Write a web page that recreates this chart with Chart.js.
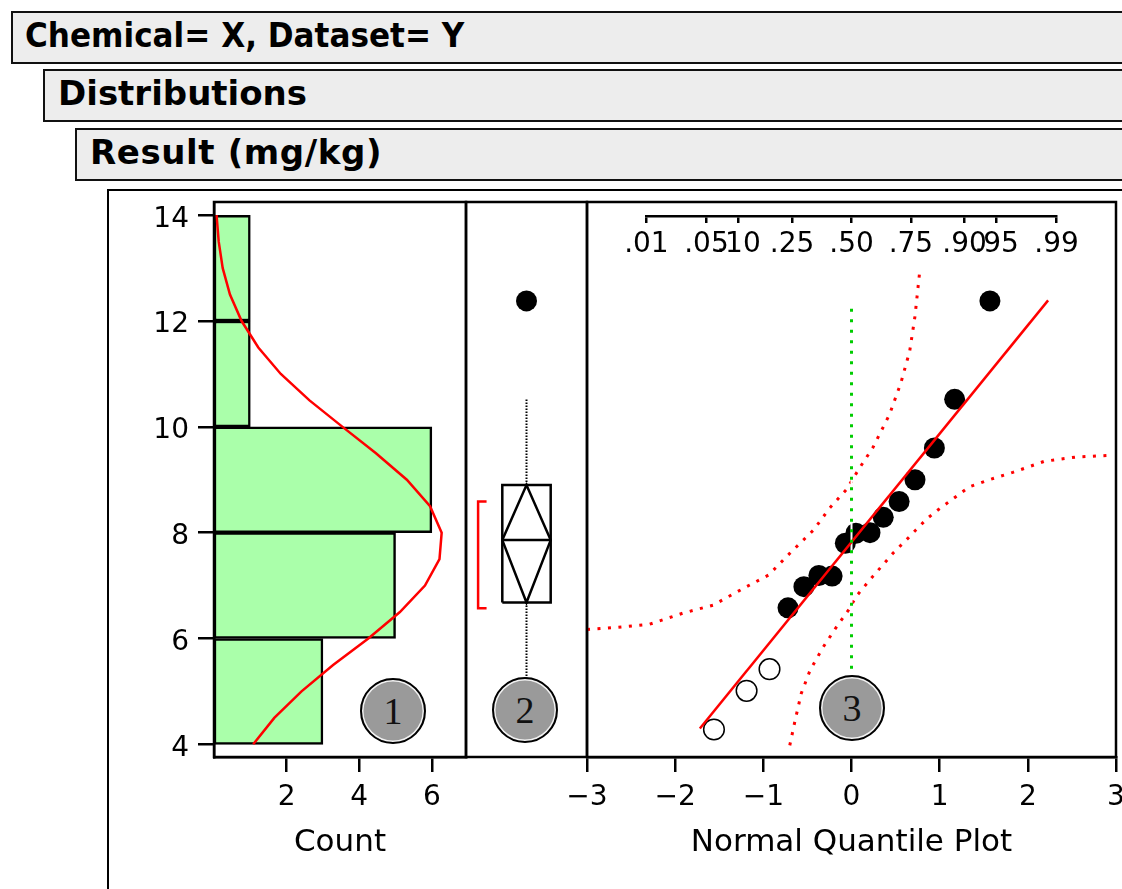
<!DOCTYPE html>
<html>
<head>
<meta charset="utf-8">
<title>Distributions – Result (mg/kg)</title>
<script src="https://cdn.jsdelivr.net/npm/chart.js@4.4.1/dist/chart.umd.min.js"></script>
<style>
  html, body { margin: 0; padding: 0; background: #fff; }
  body { width: 1122px; height: 889px; overflow: hidden; position: relative; }
  .hdr {
    position: absolute; right: -40px; height: 47px; padding-top: 2px;
    background: #ededed; border: 2px solid #111;
    font: bold 34px 'DejaVu Sans', sans-serif; line-height: 40px; color: #000;
    white-space: nowrap;
  }
  .hdr .narrow { display: inline-block; transform: scaleX(0.915); transform-origin: 0 50%; }
  .frame {
    position: absolute; left: 107px; top: 189px; width: 1100px; height: 800px;
    border-left: 2px solid #000; border-top: 2px solid #000;
  }
  canvas { position: absolute; left: 0; top: 0; }
  .badge {
    position: absolute; width: 62px; height: 62px; border-radius: 50%;
    background: #9a9a9a; border: 2px solid #000;
    box-shadow: inset 0 0 0 1.5px #f2f2f2;
    font: 38px 'Liberation Serif', 'DejaVu Serif', serif; color: #111;
    display: flex; align-items: center; justify-content: center;
  }
</style>
</head>
<body>
<div class="hdr" style="left:11px; top:11px; padding-left:12px;"><span class="narrow">Chemical= X, Dataset= Y</span></div>
<div class="hdr" style="left:43px; top:69px; padding-left:13px;">Distributions</div>
<div class="hdr" style="left:75px; top:128px; padding-left:13px; letter-spacing:0.6px;">Result (mg/kg)</div>
<div class="frame"></div>

<canvas id="hist" width="1300" height="1000"></canvas>
<canvas id="box" width="1300" height="1000"></canvas>
<canvas id="quant" width="1300" height="1000"></canvas>
<canvas id="prob" width="1300" height="1000"></canvas>

<div class="badge" style="left:360px; top:678px;">1</div>
<div class="badge" style="left:492px; top:677px;">2</div>
<div class="badge" style="left:819px; top:675px;">3</div>

<script>
// ---- Histogram (Result in mg/kg, counts per bin) ----
const binEdges  = [4, 6, 8, 10, 12, 14];
const binCounts = [3, 5, 6, 1, 1];

// Fitted normal curve, in count units
const densityValues = [4, 4.5, 5, 5.5, 6, 6.5, 7, 7.5, 8, 8.5, 9, 9.5, 10, 10.5, 11, 11.5, 12, 12.5, 13, 13.5, 14];
const densityCounts = [1.08, 1.66, 2.41, 3.28, 4.25, 5.12, 5.81, 6.21, 6.27, 5.95, 5.31, 4.46, 3.54, 2.63, 1.84, 1.22, 0.76, 0.44, 0.24, 0.13, 0.07];

// ---- Outlier box plot ----
const boxQuartiles  = [6.68, 8.90];
const boxMedian     = 7.86;
const whiskerEnds   = [4.28, 10.52];
const outlierValues = [12.38];
const meanValue     = 7.86;
const meanInterval  = [6.68, 8.90];
const shortestHalf  = [6.57, 8.59];

// ---- Normal quantile plot ----
const openQuantiles   = [-1.56, -1.19, -0.93];
const openValues      = [4.28, 5.01, 5.42];
const filledQuantiles = [-0.72, -0.54, -0.37, -0.22, -0.07, 0.05, 0.21, 0.36, 0.54, 0.72, 0.94, 1.17, 1.57];
const filledValues    = [6.58, 6.98, 7.19, 7.18, 7.80, 7.99, 8.00, 8.29, 8.59, 9.00, 9.60, 10.52, 12.38];
const fitQuantiles    = [-1.72, 2.23];
const fitValues       = [4.30, 12.39];
const upperBandQuantiles = [-3.0, -2.66, -2.29, -1.91, -1.57, -1.19, -0.94, -0.70, -0.43, -0.25, -0.06, 0.09, 0.24, 0.43, 0.56, 0.66, 0.72, 0.77];
const upperBandValues    = [6.17, 6.21, 6.27, 6.48, 6.63, 6.98, 7.20, 7.61, 8.05, 8.46, 8.81, 9.22, 9.60, 10.23, 10.83, 11.43, 12.09, 12.88];
const lowerBandQuantiles = [-0.70, -0.64, -0.57, -0.47, -0.32, -0.17, -0.02, 0.05, 0.24, 0.47, 0.62, 0.73, 0.86, 0.98, 1.11, 1.34, 1.58, 1.83, 2.19, 2.55, 2.93];
const lowerBandValues    = [3.98, 4.45, 4.96, 5.40, 5.84, 6.22, 6.57, 6.79, 7.17, 7.61, 7.86, 8.05, 8.27, 8.43, 8.59, 8.87, 9.01, 9.14, 9.35, 9.43, 9.46];
const medianRefQuantile  = 0;
const medianRefValues    = [12.23, 4.30];

// ---- Axes ----
const valueRange    = [3.76, 14.25];
const valueTicks    = [4, 6, 8, 10, 12, 14];
const countRange    = [0, 6.94];
const countTicks    = [2, 4, 6];
const quantileRange = [-3, 3];
const quantileTicks = [-3, -2, -1, 0, 1, 2, 3];
const probLabels    = ['.01', '.05', '.10', '.25', '.50', '.75', '.90', '.95', '.99'];
const probQuantiles = [-2.326, -1.645, -1.282, -0.674, 0, 0.674, 1.282, 1.645, 2.326];

// ---- Layout (pixels) ----
const CW = 1300, CH = 1000;
const plotTop = 202, plotBottom = 757;
const histLeft = 214, boxLeft = 466, quantLeft = 587, quantRight = 1116;
const leftAxisWidth = 100, bottomAxisHeight = 120;
const LW = 2.5;

Chart.defaults.font.family = "'DejaVu Sans', sans-serif";
Chart.defaults.color = '#000';

const framePlugin = {
  id: 'panelFrame',
  afterDraw(chart) {
    const { ctx, chartArea: a } = chart;
    ctx.save();
    ctx.strokeStyle = '#000';
    ctx.lineWidth = LW;
    ctx.strokeRect(a.left, a.top, a.right - a.left, a.bottom - a.top);
    ctx.restore();
  }
};

const noChrome = { legend: { display: false }, tooltip: { enabled: false } };
const tickFont = { size: 28 };
const blackTicks = (len) => ({ drawOnChartArea: false, drawTicks: true, tickLength: len, lineWidth: LW, color: '#000', offset: false });
const blackBorder = { display: true, color: '#000', width: LW };
const fixedTicks = (arr) => (scale) => { scale.ticks = arr.map(v => ({ value: v })); };
const pts = (xs, ys) => xs.map((x, i) => ({ x, y: ys[i] }));

// ---- Histogram panel ----
new Chart(document.getElementById('hist'), {
  type: 'bar',
  data: {
    datasets: [
      {
        type: 'line',
        data: pts(densityCounts, densityValues),
        borderColor: '#ff0000', borderWidth: 2.5, pointRadius: 0, tension: 0, fill: false,
        order: 0
      },
      {
        type: 'bar',
        data: binCounts.map((c, i) => ({ x: c, y: (binEdges[i] + binEdges[i + 1]) / 2 })),
        backgroundColor: '#aaffaa', borderColor: '#000', borderWidth: LW, borderSkipped: false,
        barPercentage: 1, categoryPercentage: 1,
        order: 1
      }
    ]
  },
  options: {
    indexAxis: 'y', responsive: false, animation: false, events: [],
    layout: { padding: { left: histLeft - leftAxisWidth, right: CW - boxLeft, top: plotTop, bottom: CH - plotBottom - bottomAxisHeight } },
    plugins: noChrome,
    scales: {
      y: {
        type: 'linear', position: 'left', min: valueRange[0], max: valueRange[1], offset: false,
        grid: blackTicks(16), border: blackBorder,
        ticks: { font: tickFont, padding: 9, labelOffset: 4 },
        afterBuildTicks: fixedTicks(valueTicks),
        afterFit: (s) => { s.width = leftAxisWidth; }
      },
      x: {
        type: 'linear', position: 'bottom', min: countRange[0], max: countRange[1],
        grid: blackTicks(15), border: blackBorder,
        ticks: { font: tickFont, padding: 9, maxRotation: 0, minRotation: 0, autoSkip: false },
        title: { display: true, text: 'Count', font: { size: 31 }, padding: { top: 0, bottom: 15 } },
        afterBuildTicks: fixedTicks(countTicks),
        afterFit: (s) => { s.height = bottomAxisHeight; }
      }
    }
  },
  plugins: [framePlugin]
});

// ---- Box plot panel ----
const cx = 0.5, boxHalf = 0.2, bracketX = 0.1, bracketTip = 0.17;
const solid = (color, width) => ({ showLine: true, borderColor: color, borderWidth: width, pointRadius: 0, fill: false, borderJoinStyle: 'miter' });
new Chart(document.getElementById('box'), {
  type: 'scatter',
  data: {
    datasets: [
      { ...solid('#000', LW), data: [
        { x: cx - boxHalf, y: boxQuartiles[0] }, { x: cx + boxHalf, y: boxQuartiles[0] },
        { x: cx + boxHalf, y: boxQuartiles[1] }, { x: cx - boxHalf, y: boxQuartiles[1] },
        { x: cx - boxHalf, y: boxQuartiles[0] }] },
      { ...solid('#000', LW), data: [{ x: cx - boxHalf, y: boxMedian }, { x: cx + boxHalf, y: boxMedian }] },
      { ...solid('#000', LW), data: [
        { x: cx - boxHalf, y: meanValue }, { x: cx, y: meanInterval[1] },
        { x: cx + boxHalf, y: meanValue }, { x: cx, y: meanInterval[0] },
        { x: cx - boxHalf, y: meanValue }] },
      { ...solid('#000', 2), borderDash: [1.5, 1.5], data: [{ x: cx, y: boxQuartiles[1] }, { x: cx, y: whiskerEnds[1] }] },
      { ...solid('#000', 2), borderDash: [1.5, 1.5], data: [{ x: cx, y: boxQuartiles[0] }, { x: cx, y: whiskerEnds[0] }] },
      { ...solid('#ff0000', LW), data: [
        { x: bracketTip, y: shortestHalf[1] }, { x: bracketX, y: shortestHalf[1] },
        { x: bracketX, y: shortestHalf[0] }, { x: bracketTip, y: shortestHalf[0] }] },
      { data: outlierValues.map(v => ({ x: cx, y: v })), pointRadius: 10.5, pointBackgroundColor: '#000', pointBorderWidth: 0 }
    ]
  },
  options: {
    responsive: false, animation: false, events: [],
    layout: { padding: { left: boxLeft, right: CW - quantLeft, top: plotTop, bottom: CH - plotBottom } },
    plugins: noChrome,
    scales: {
      x: { type: 'linear', display: false, min: 0, max: 1 },
      y: { type: 'linear', display: false, min: valueRange[0], max: valueRange[1] }
    }
  },
  plugins: [framePlugin]
});

// ---- Normal quantile plot panel ----
const minus = (v) => (v < 0 ? '\u2212' + Math.abs(v) : String(v));
const quantChart = new Chart(document.getElementById('quant'), {
  type: 'scatter',
  data: {
    datasets: [
      { ...solid('#ff0000', 3), borderDash: [3, 7.5], data: pts(upperBandQuantiles, upperBandValues), order: 10 },
      { ...solid('#ff0000', 3), borderDash: [3, 7.5], data: pts(lowerBandQuantiles, lowerBandValues), order: 10 },
      { data: pts(filledQuantiles, filledValues), pointRadius: 10.5, pointBackgroundColor: '#000', pointBorderWidth: 0, order: 6 },
      { data: pts(openQuantiles, openValues), pointRadius: 10.3, pointBackgroundColor: '#fff', pointBorderColor: '#000', pointBorderWidth: 1.5, order: 6 },
      { ...solid('#ffffff', 2), data: medianRefValues.map(v => ({ x: medianRefQuantile, y: v })), order: 5 },
      { ...solid('#ff0000', 2.5), data: pts(fitQuantiles, fitValues), order: 3 },
      { ...solid('#00cc00', 3), borderDash: [3, 7.5], data: medianRefValues.map(v => ({ x: medianRefQuantile, y: v })), order: 1 }
    ]
  },
  options: {
    responsive: false, animation: false, events: [],
    layout: { padding: { left: quantLeft, right: CW - quantRight, top: plotTop, bottom: CH - plotBottom - bottomAxisHeight } },
    plugins: noChrome,
    scales: {
      x: {
        type: 'linear', position: 'bottom', min: quantileRange[0], max: quantileRange[1],
        grid: blackTicks(15), border: blackBorder,
        ticks: { font: tickFont, padding: 9, maxRotation: 0, minRotation: 0, autoSkip: false, callback: minus },
        title: { display: true, text: 'Normal Quantile Plot', font: { size: 31 }, padding: { top: 0, bottom: 15 } },
        afterBuildTicks: fixedTicks(quantileTicks),
        afterFit: (s) => { s.height = bottomAxisHeight; }
      },
      y: { type: 'linear', display: false, min: valueRange[0], max: valueRange[1] }
    }
  },
  plugins: [framePlugin]
});

// ---- Probability axis inside the quantile panel ----
const qx = quantChart.scales.x;
const probLeft = qx.getPixelForValue(probQuantiles[0]);
const probRight = qx.getPixelForValue(probQuantiles[probQuantiles.length - 1]);
const probLine = 216, probAxisHeight = 60;
new Chart(document.getElementById('prob'), {
  type: 'scatter',
  data: { datasets: [] },
  options: {
    responsive: false, animation: false, events: [],
    layout: { padding: { left: probLeft, right: CW - probRight, top: 150, bottom: CH - probLine - probAxisHeight } },
    plugins: noChrome,
    scales: {
      x: {
        type: 'linear', position: 'bottom', min: probQuantiles[0], max: probQuantiles[probQuantiles.length - 1],
        grid: blackTicks(7), border: blackBorder,
        ticks: { font: tickFont, padding: 5, maxRotation: 0, minRotation: 0, autoSkip: false,
                 callback: (v, i) => probLabels[i] },
        afterBuildTicks: fixedTicks(probQuantiles),
        afterFit: (s) => { s.height = probAxisHeight; }
      },
      y: { type: 'linear', display: false, min: 0, max: 1 }
    }
  }
});
</script>
</body>
</html>
